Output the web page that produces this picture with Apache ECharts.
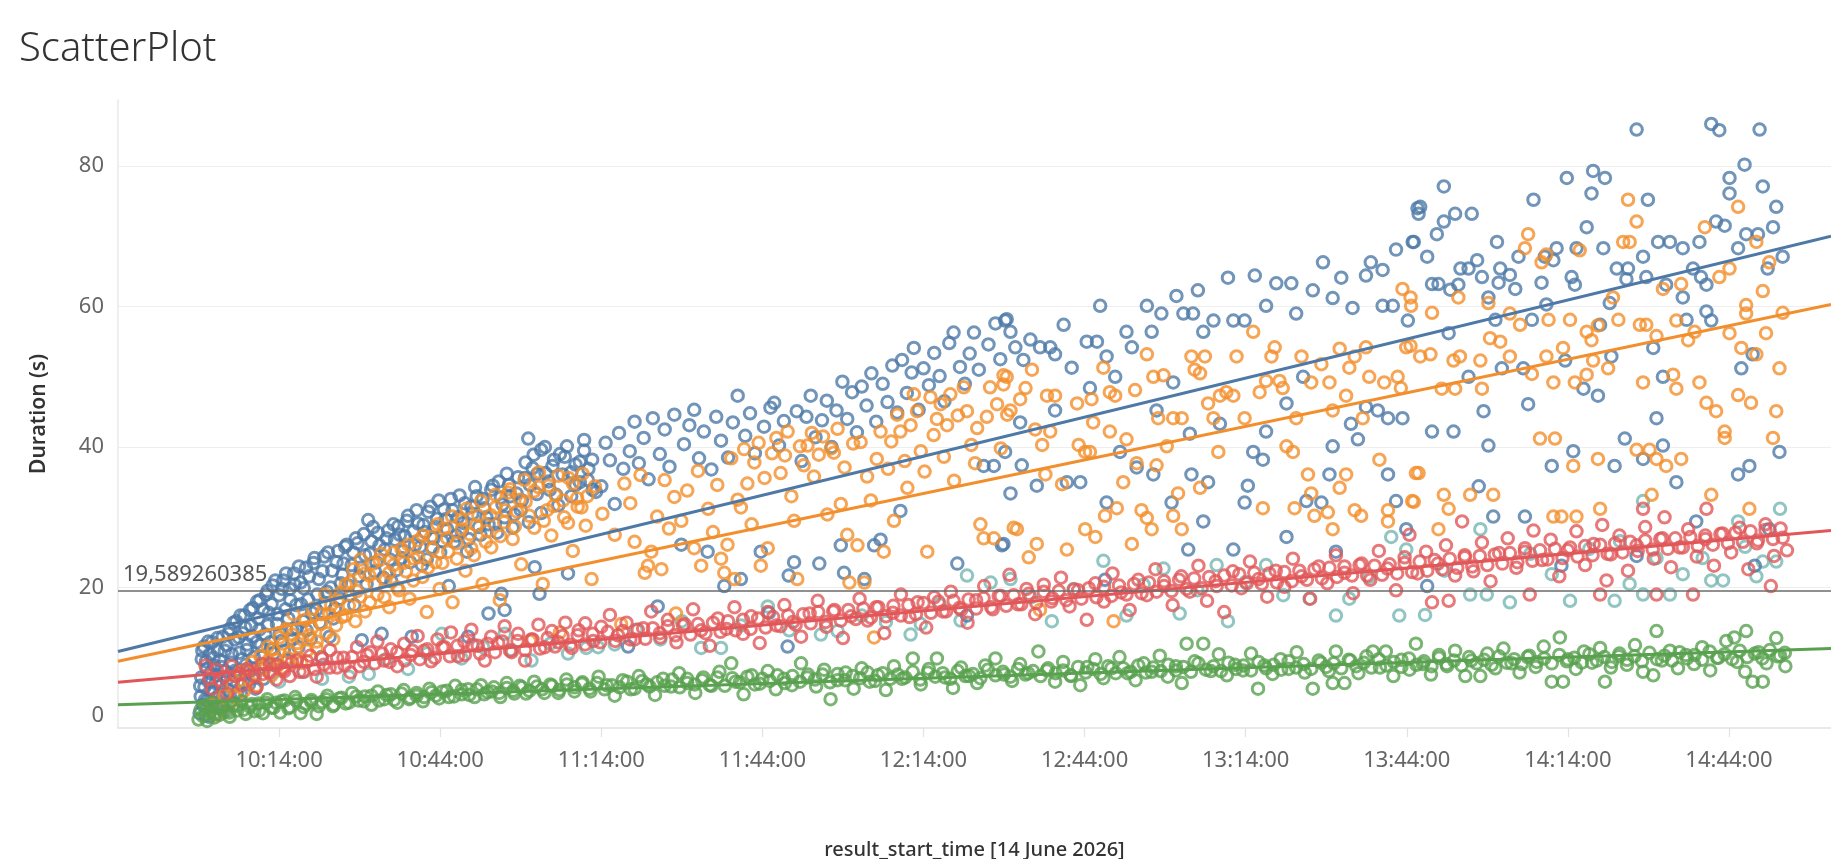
<!DOCTYPE html>
<html>
<head>
<meta charset="utf-8">
<title>ScatterPlot</title>
<script src="https://cdn.jsdelivr.net/npm/echarts@6/dist/echarts.min.js"></script>
<style>
  html, body { margin: 0; padding: 0; background: #fff; }
  #myChart { width: 1831px; height: 859px; }
</style>
</head>
<body>
<div id="myChart"></div>
<script>
// x = minutes since midnight on 14 June 2026, y = duration in seconds
const blueData = [
  [599.2,2.1],[599.4,4.5],[599.5,7.2],[599.6,9.8],[599.8,3.3],[600.0,11.6],[600.1,5.8],[600.3,1.8],[600.5,8.4],[600.7,3.9],
  [600.9,6.6],[601.1,10.5],[601.3,2.6],[601.5,12.2],[601.7,5.1],[601.9,8.9],[602.1,4.2],[602.3,7.5],[602.6,11.0],[602.8,2.9],
  [603.0,9.6],[603.2,6.0],[603.5,13.0],[603.7,4.6],[604.0,8.1],[604.2,11.8],[604.5,5.4],[604.8,14.1],[605.1,9.3],[605.4,6.8],
  [605.7,12.6],[606.0,15.2],[606.3,7.9],[606.6,10.7],[606.9,4.8],[607.2,13.5],[607.5,16.0],[607.8,9.0],[608.1,11.9],[608.4,6.2],
  [608.8,14.6],[609.1,17.1],[609.4,8.4],[609.8,12.2],[610.1,15.6],[610.4,18.2],[610.8,10.1],[611.1,7.0],[611.4,13.3],[611.8,19.5],
  [612.1,16.4],[612.5,11.2],[612.8,20.3],[613.2,8.9],[613.6,14.8],[614.0,18.9],[614.4,12.4],[614.8,21.0],[615.2,16.9],[615.6,9.7],
  [616.0,19.8],[616.4,14.0],[616.8,22.0],[617.2,17.5],[617.6,11.5],[618.0,20.7],[618.5,15.2],[619.0,22.8],[619.4,18.3],[619.9,12.7],
  [620.4,23.5],[620.9,16.8],[621.4,21.2],[621.9,10.1],[622.4,24.4],[622.9,19.4],[623.4,13.0],[623.9,22.4],[624.4,17.0],[625.0,25.2],
  [625.5,20.6],[626.0,23.4],[626.6,26.1],[627.2,18.9],[627.8,25.0],[628.3,27.0],[628.9,21.6],[629.4,12.5],[630.0,24.6],[630.6,29.6],
  [631.2,26.6],[631.8,22.3],[632.4,27.8],[633.1,13.4],[633.7,25.4],[634.3,28.1],[634.9,20.9],[635.6,26.8],[636.2,28.7],[636.8,24.2],
  [637.4,27.3],[638.0,30.2],[638.7,13.0],[639.3,26.0],[639.9,29.1],[640.6,23.2],[641.2,27.9],[641.8,30.8],[642.5,25.7],[643.1,28.6],
  [643.7,32.4],[644.4,26.6],[645.0,29.7],[645.6,20.2],[646.3,31.0],[647.0,27.4],[647.6,33.1],[648.3,29.2],[649.0,25.1],[649.2,13.0],
  [649.8,31.5],[650.5,34.3],[651.2,28.6],[651.9,32.6],[652.6,30.0],[653.0,16.3],[653.5,33.9],[654.2,29.0],[654.9,35.1],[655.4,19.1],
  [655.6,31.8],[656.0,16.8],[656.4,36.2],[657.1,33.0],[657.8,30.4],[658.5,35.7],[659.2,32.4],[659.9,37.8],[660.4,41.2],[660.7,34.6],
  [661.4,38.9],[661.6,22.9],[662.1,36.2],[662.5,19.1],[662.8,39.6],[663.5,40.0],[664.2,35.1],[664.9,37.3],[665.6,33.2],[666.3,39.0],
  [667.2,38.6],[667.8,22.0],[668.4,36.4],[669.2,34.6],[670.0,37.9],[670.8,39.5],[671.5,35.3],[672.3,38.2],[673.0,33.6],
  [674.0,34.4],[674.8,40.6],[675.6,38.1],[676.5,31.9],[677.3,42.0],[678.1,36.9],[679.0,11.6],[679.3,39.4],[680.2,43.6],[681.0,37.7],
  [681.9,41.3],[682.8,35.4],[683.6,44.1],[684.5,17.3],[684.9,39.0],[685.8,42.5],[686.7,37.2],[687.6,44.6],[688.9,26.1],[689.4,40.4],
  [690.4,43.1],[691.3,45.3],[692.2,38.4],[693.1,42.2],[693.8,25.1],[694.5,36.8],[695.4,44.3],[696.3,40.9],[696.9,20.2],[697.6,38.5],
  [698.5,43.5],[699.4,47.3],[700.0,21.2],[700.8,41.6],[701.7,44.8],[702.6,39.1],[703.7,25.1],[704.3,42.9],[705.2,16.4],[705.5,45.6],
  [706.2,46.3],[707.1,40.2],[708.0,43.7],[708.7,11.6],[708.9,21.7],[709.9,23.6],[710.4,45.1],[711.3,38.0],[712.2,44.3],[713.0,47.3],
  [713.9,41.4],[714.6,23.4],[715.1,43.8],[716.0,46.6],[716.9,40.0],[717.8,45.2],[718.6,26.0],[718.9,49.3],[719.2,22.1],[719.8,44.0],
  [720.7,47.8],[721.6,42.1],[722.5,48.6],[723.0,21.2],[723.4,45.9],[724.3,50.5],[724.8,26.0],[725.2,43.6],[726.0,26.8],[726.4,49.0],
  [727.3,46.4],[728.2,51.6],[729.1,44.9],[729.7,30.9],[730.0,52.4],[730.9,47.7],[731.8,50.6],[732.2,54.1],[733.1,45.3],[734.0,51.2],
  [735.0,48.8],[736.0,53.4],[737.0,50.1],[737.9,46.5],[738.8,54.8],[739.6,56.3],[740.3,23.4],[740.8,51.4],[741.7,49.0],[742.1,16.0],
  [742.6,53.3],[743.4,56.3],[744.3,51.0],[745.2,37.3],[746.1,54.6],[747.1,37.3],[747.4,57.6],[748.3,52.5],[748.6,26.0],[749.2,58.0],
  [750.2,33.4],[748.9,26.2],[749.2,39.3],[749.5,58.2],[750.2,56.4],[751.1,54.2],[752.0,43.5],[752.3,37.4],[752.6,52.4],[753.9,55.3],
  [755.1,34.5],[755.7,54.2],[757.6,54.2],[758.5,53.2],[758.5,45.2],[760.1,57.4],[760.7,35.0],[761.6,51.3],[763.2,35.0],[764.4,55.0],
  [765.0,48.4],[766.3,55.0],[766.9,60.1],[767.8,21.1],[768.1,52.9],[768.1,32.1],[769.7,50.0],[770.6,39.3],[771.8,56.4],[772.8,54.2],
  [773.7,37.1],[775.6,60.1],[776.5,56.4],[776.8,36.1],[777.4,45.2],[778.3,59.0],[780.2,32.1],[780.5,49.2],[781.1,61.5],[782.4,59.0],
  [783.3,25.4],[783.6,41.9],[783.9,36.1],[784.2,59.0],[785.1,62.3],[786.1,56.4],[786.1,29.4],[787.0,35.0],[788.0,58.0],[789.2,43.3],
  [790.7,64.1],[791.7,58.0],[791.7,25.4],[793.8,58.0],[793.8,32.1],[794.4,34.5],[795.4,39.3],[795.7,64.4],[797.2,38.2],[797.8,60.1],
  [797.8,42.2],[799.7,63.3],[801.6,46.2],[801.6,27.2],[802.5,63.3],[803.4,59.0],[804.7,50.0],[805.3,32.3],[806.5,62.3],[808.1,32.1],
  [808.4,66.3],[809.6,36.1],[810.2,61.2],[810.2,40.1],[810.8,25.1],[811.8,64.1],[813.6,43.3],[813.9,59.8],[814.9,41.1],[816.4,64.4],
  [816.4,45.7],[817.3,66.3],[818.6,45.2],[819.5,65.2],[819.5,60.1],[820.5,44.1],[820.5,36.1],[821.4,60.1],[822.0,68.1],[822.0,32.3],
  [823.2,44.1],[823.9,28.3],[824.2,58.0],[825.1,69.2],[826.0,74.0],
  [825.3,69.2],[826.2,73.2],[826.5,74.2],[827.8,67.1],[827.8,20.2],[828.7,63.2],[828.7,42.2],[829.6,70.3],[829.9,63.2],[830.9,77.1],
  [830.9,72.1],[831.8,56.2],[832.1,62.4],[832.7,42.2],[833.0,73.2],[833.6,63.1],[834.0,65.4],[835.5,65.4],[835.5,50.0],[836.1,73.2],
  [837.1,66.6],[837.4,34.4],[838.0,64.2],[838.3,45.1],[839.2,61.3],[839.2,40.2],[840.1,30.1],[840.5,58.1],[840.8,69.2],[841.1,63.4],
  [841.4,65.4],[841.7,51.2],[843.2,64.5],[844.2,62.5],[844.8,67.1],[845.7,51.2],[846.0,30.1],[846.6,46.1],[847.3,58.1],[847.6,75.2],
  [849.1,63.4],[849.7,67.1],[850.0,60.3],[851.0,37.3],[851.3,66.6],[851.9,68.3],[852.8,23.1],[853.5,52.3],[853.8,78.3],[854.7,64.2],
  [855.0,39.4],[855.3,63.1],[855.6,68.3],[856.9,48.3],[857.5,71.3],[858.4,76.1],[858.7,79.3],[859.6,47.3],[860.0,57.4],[860.6,68.3],
  [860.9,78.3],[861.8,60.5],[862.1,52.9],[862.7,37.3],[863.1,65.4],[864.6,41.2],[864.9,63.9],[865.2,65.4],[866.8,85.2],[866.8,24.5],
  [868.0,67.1],[868.0,38.3],[868.6,64.2],[868.9,75.2],[869.9,54.1],[870.5,44.1],[870.8,69.2],[871.7,50.0],[871.7,40.2],[872.3,63.1],
  [873.0,69.2],[874.2,35.0],[875.4,68.3],[875.4,61.3],[876.1,58.1],[877.3,65.4],[877.9,29.4],[878.5,69.2],[878.8,64.2],[879.8,63.1],
  [879.8,59.3],[880.7,86.0],[880.7,58.0],[881.6,72.1],[882.2,85.1],[883.2,71.5],[884.1,78.3],[884.1,76.1],[885.7,68.3],[885.7,36.1],
  [886.3,51.2],[886.9,80.2],[887.2,70.3],[887.8,37.3],[888.4,53.2],[888.8,23.1],[889.4,70.3],[889.7,85.2],[890.3,77.1],[891.2,65.4],
  [891.5,28.3],[892.2,71.3],[892.8,74.2],[893.4,39.3],[894.0,67.1]
];

// the solid blue mass of the first hour
const blueCore = [
  [599.3,6.0],[599.7,11.0],[600.2,4.0],[600.4,9.5],[600.8,12.3],[601.0,1.6],[601.2,7.8],[601.6,3.4],[601.8,10.0],[602.2,6.4],
  [602.5,12.8],[602.9,4.8],[603.3,8.7],[603.6,2.4],[603.9,11.0],[604.3,6.9],[604.6,13.4],[604.9,3.7],[605.2,10.5],[605.5,15.0],
  [605.9,8.2],[606.2,5.0],[606.5,12.9],[606.8,16.0],[607.1,9.8],[607.4,6.6],[607.7,14.3],[608.0,11.1],[608.3,8.0],[608.6,16.8],
  [609.0,13.0],[609.3,10.1],[609.6,5.6],[609.9,18.0],[610.3,14.0],[610.6,11.8],[611.0,16.9],[611.3,9.0],[611.6,19.0],[611.9,14.6],
  [612.3,12.2],[612.6,17.6],[613.0,10.6],[613.3,21.0],[613.7,16.2],[614.1,13.5],[614.5,19.8],[614.9,11.0],[615.3,22.0],[615.7,15.6],
  [616.1,18.2],[616.5,12.6],[616.9,20.4],[617.3,14.2],[617.7,23.0],[618.1,17.6],[618.6,19.9],[619.1,13.9],[619.6,21.6],[620.1,16.4],
  [620.6,24.2],[621.1,19.0],[621.6,15.0],[622.1,22.3],[622.6,17.7],[623.1,25.0],[623.6,20.0],[624.1,15.6],[624.7,23.6],[625.3,18.4],
  [625.8,21.8],[626.3,25.8],[626.9,20.3],[627.5,23.2],[628.0,17.5],[628.6,26.3],[629.2,22.8],[629.8,27.6],[630.3,20.5],[630.9,24.8],
  [631.5,28.6],[632.1,23.6],[632.7,26.0],[633.4,21.4],[634.0,27.0],[634.6,24.0],[635.3,29.0],[635.9,22.5],[636.5,27.5],[637.1,25.2],
  [637.8,29.5],[638.4,23.6],[639.0,28.0],[639.6,31.0],[640.3,25.8],[640.9,28.9],[641.5,24.0],[642.2,31.5],[642.8,27.0],[643.4,29.8],
  [644.0,25.0],[644.7,31.1],[645.3,28.3],[646.0,32.6],[646.6,26.5],[647.3,30.0],[648.0,28.0],[648.6,32.0],[649.3,26.9],[650.0,30.5],
  [650.8,33.0],[651.5,27.5],[652.2,31.3],[653.0,29.0],[653.8,34.5],[654.6,27.8],[655.3,32.8],[656.0,30.0],[656.8,34.6],[657.5,28.5],
  [658.2,33.4],[659.0,31.0],[659.8,35.6],[660.5,29.3],[661.2,37.0],[662.0,33.3],[662.8,30.6],[663.6,36.3],[664.4,33.9],[665.2,38.2],
  [666.0,31.7],[666.8,36.1],[667.6,40.1],[668.4,33.0],[669.2,37.5],[670.0,35.0],[670.8,41.0],[671.6,36.9],[672.4,33.9]
];

const orangeData = [
  [601.6,3.4],[602.4,1.9],[603.1,2.8],[603.8,4.6],[604.6,3.1],[605.3,6.2],[606.0,4.4],[606.8,8.0],[607.5,5.3],[608.3,7.1],
  [609.0,9.4],[609.8,6.0],[610.5,10.2],[611.2,8.3],[611.9,11.6],[612.6,7.5],[613.4,9.8],[614.1,12.9],[614.6,8.6],[615.3,14.1],
  [616.0,10.7],[616.7,16.2],[617.4,12.1],[618.1,9.3],[618.9,15.4],[619.6,13.2],[620.3,17.0],[621.0,11.4],[621.8,14.8],[622.6,19.0],
  [623.3,16.3],[624.1,12.6],[624.9,18.1],[625.7,15.8],[626.4,20.4],[627.0,17.4],[627.8,22.6],[628.5,19.5],[629.2,24.0],[630.0,16.6],
  [630.8,21.7],[631.5,23.4],[632.3,19.0],[633.0,24.8],[633.8,21.1],[634.5,17.2],[635.3,23.2],[636.0,20.0],[636.8,25.5],[637.6,22.3],
  [638.3,18.4],[639.1,24.1],[639.9,26.7],[640.7,21.5],[641.5,16.5],[642.3,27.2],[643.1,23.6],[643.9,19.8],[644.7,28.4],[645.5,25.1],
  [646.3,17.9],[647.1,26.3],[647.9,29.6],[648.7,22.4],[649.5,27.6],[650.3,24.6],[651.1,30.2],[651.9,20.5],[652.7,28.0],[653.5,25.7],
  [654.3,31.4],[655.1,18.2],[655.9,29.3],[656.7,33.5],[657.5,26.9],[658.3,30.8],[659.1,23.3],[659.9,32.2],[660.7,12.4],[661.5,28.5],
  [662.3,34.3],[663.1,20.5],[663.9,31.0],[664.7,27.4],[665.5,33.1],[666.3,13.6],[667.1,30.0],[667.9,35.6],[668.7,25.2],[669.5,32.7],
  [670.3,31.4],[671.1,28.8],[672.2,21.2],[672.8,34.4],
  [674.2,30.5],[676.5,27.5],[677.7,14.8],[678.3,34.8],[679.4,32.0],[680.2,26.5],[681.3,36.0],[682.1,22.1],[682.7,23.1],[683.3,25.1],
  [684.4,30.1],[685.2,22.6],[685.8,35.3],[686.6,28.4],[687.6,32.9],[687.9,16.3],[688.9,29.5],[690.0,33.8],[691.3,25.6],[692.0,36.6],
  [692.6,23.1],[693.9,31.2],[694.8,27.9],[695.6,34.6],[696.3,24.1],[696.9,22.1],[697.5,26.1],[698.2,38.4],[698.8,21.2],[699.4,32.5],
  [700.0,31.4],[700.6,39.7],[701.2,34.8],[702.0,29.0],[702.5,37.8],[703.3,40.6],[703.7,23.1],[704.4,35.6],[705.0,25.6],[705.8,39.1],
  [706.6,41.3],[707.4,36.3],[708.2,38.8],[708.7,42.2],[709.4,33.0],[709.9,29.5],[710.5,21.2],[711.0,40.1],[711.7,37.4],[712.4,40.2],
  [713.2,42.0],[713.6,35.8],[714.5,38.9],[715.3,41.5],[716.1,30.4],[716.8,39.8],[717.3,39.2],[718.0,42.6],[718.6,31.9],[719.3,37.1],
  [719.8,27.5],[720.2,20.7],[720.9,40.5],[721.7,26.0],[722.3,40.7],[723.0,20.7],[723.5,35.8],[724.2,32.4],[724.8,12.9],[725.3,38.3],
  [726.0,42.2],[726.6,25.1],[727.4,36.9],[728.0,40.8],[728.5,29.5],[729.1,44.6],[729.7,42.2],[730.5,38.0],[731.0,34.2],[731.6,43.1],
  [732.2,47.5],[732.8,45.1],[733.5,39.4],[734.2,36.5],[734.7,25.1],[735.3,47.1],[735.9,41.7],[736.5,44.0],[737.2,46.1],[737.8,38.6],
  [738.4,43.1],[739.0,47.5],[739.7,35.2],[740.4,44.5],[741.5,48.5],[742.1,45.1],[742.9,40.3],[743.6,37.7],[744.0,42.7],[744.6,29.0],
  [745.2,27.0],[745.8,44.3],[746.4,48.5],[747.1,27.0],[747.7,46.1],[748.4,39.8],[748.9,50.2],[749.6,44.6],[750.8,28.5],
  [748.9,48.9],[749.5,50.0],[750.2,45.2],[751.4,28.3],[752.0,46.8],[753.0,48.4],[753.6,24.3],[754.2,51.0],[754.8,42.5],[755.1,26.2],
  [755.7,16.8],[756.1,40.3],[756.7,36.1],[757.0,47.3],[757.6,42.2],[758.5,47.3],[759.8,34.7],[760.7,25.4],[762.6,46.2],[762.9,40.3],
  [764.1,39.3],[764.1,28.3],[765.0,39.3],[765.3,46.8],[765.6,43.5],[766.0,27.2],[767.5,51.3],[767.8,30.2],[768.7,47.8],[768.7,42.2],
  [769.4,15.2],[769.7,47.3],[770.0,31.3],[771.2,35.0],[771.8,41.1],[772.8,26.2],[773.4,48.1],[773.7,37.7],[774.6,31.0],[775.6,53.2],
  [775.6,29.9],[776.5,28.3],[776.8,50.0],[777.4,37.4],[777.7,44.1],[778.7,50.2],[779.3,40.1],[780.5,44.1],[780.5,30.2],[781.4,33.4],
  [782.1,44.1],[782.1,28.3],[783.9,52.9],[784.5,51.0],[785.5,50.5],[785.5,34.2],[786.4,52.9],[787.0,46.2],[788.0,44.1],[788.9,39.3],
  [789.2,47.3],[790.4,47.8],[791.7,47.3],[792.3,52.9],[793.8,44.1],[795.4,56.4],[796.6,47.8],[797.2,31.3],[797.8,49.4],[798.8,52.9],
  [799.4,54.2],[800.3,49.4],[800.9,48.4],[801.6,40.1],[802.8,39.3],[803.1,31.3],[803.4,44.1],[804.4,52.9],[805.6,36.1],[806.2,49.2],
  [806.2,33.4],[806.8,30.2],[808.1,51.8],[809.3,30.7],[809.6,49.2],[810.2,45.2],[810.2,28.3],[811.5,54.0],[811.5,34.2],[812.7,47.3],
  [812.7,36.1],[813.3,51.3],[814.3,52.9],[814.3,31.0],[815.5,30.2],[815.8,44.1],[816.4,54.2],[817.0,50.0],[818.9,38.2],[819.8,49.2],
  [820.5,31.0],[820.5,29.4],[822.3,50.0],[822.9,48.4],[823.2,62.5],[823.9,54.2],[824.8,60.1],[825.0,32.3],[825.7,36.3],
  [824.7,61.3],[824.7,54.4],[825.3,32.2],[826.2,36.3],[826.5,52.9],[828.4,53.2],[828.7,59.1],[829.9,28.3],[830.5,48.3],[830.9,33.2],
  [831.8,31.2],[832.7,52.3],[833.0,48.3],[833.6,61.3],[833.9,52.9],[835.8,33.2],[837.7,52.3],[838.0,48.3],[839.2,60.5],[839.5,55.5],
  [840.1,33.2],[841.4,55.0],[843.2,59.0],[843.2,52.9],[845.1,57.4],[846.0,68.3],[846.6,70.3],[847.3,50.4],[848.8,41.2],[849.1,66.3],
  [850.0,67.4],[850.0,52.9],[850.4,58.1],[851.3,49.2],[851.3,30.1],[851.6,41.2],[852.8,30.1],[853.1,54.1],[854.4,58.1],[855.0,37.3],
  [855.3,49.2],[855.6,30.1],[856.2,68.0],[857.5,56.4],[857.5,50.3],[858.4,55.2],[858.7,52.3],[859.6,57.3],[859.6,38.3],[860.0,31.2],
  [861.5,51.2],[862.4,61.3],[863.4,58.1],[864.3,69.2],[865.2,75.2],[865.5,69.2],[866.8,72.1],[866.8,39.6],[867.4,57.4],[868.0,49.2],
  [868.6,57.4],[869.2,39.6],[869.6,33.2],[870.5,55.8],[870.5,38.3],[871.7,62.5],[872.3,37.3],[873.6,50.3],[874.2,58.0],[874.2,48.3],
  [875.1,63.2],[875.1,38.3],[876.4,55.2],[877.6,56.4],[878.5,49.2],[879.5,71.3],[879.8,46.3],[880.7,33.2],[881.6,45.1],[882.2,64.2],
  [883.2,42.2],[883.2,41.3],[884.1,65.4],[884.1,56.2],[885.7,74.2],[885.7,47.4],[886.3,54.1],[887.2,60.2],[887.2,59.0],[887.8,31.2],
  [888.1,46.3],[889.1,69.2],[889.1,53.2],[890.3,62.2],[890.9,56.2],[891.5,66.3],[892.2,41.3],[892.8,45.1],[893.4,51.2],[894.0,59.1]
];

const orangeCore = [
  [612.0,9.6],[612.9,11.2],[613.8,8.9],[614.7,12.0],[615.6,10.0],[616.5,13.3],[617.4,9.9],[618.3,12.6],[619.2,11.0],[620.1,14.2],
  [621.0,12.3],[621.9,16.2],[622.8,13.5],[623.7,17.5],[624.6,14.6],[625.5,19.3],[626.4,16.0],[627.3,20.8],[628.2,15.2],[629.1,18.7],
  [630.0,22.0],[630.9,17.9],[631.8,20.5],[632.7,23.9],[633.6,18.6],[634.5,22.1],[635.4,25.0],[636.3,19.6],[637.2,23.5],[638.1,26.1],
  [639.0,21.0],[639.9,24.3],[640.8,27.4],[641.7,22.8],[642.6,25.5],[643.5,29.0],[644.4,23.5],[645.3,27.0],[646.2,30.1],[647.1,24.1],
  [648.0,28.3],[648.9,31.2],[649.8,25.6],[650.7,28.9],[651.6,32.3],[652.5,26.5],[653.4,30.3],[654.3,33.2],[655.2,27.3],[656.1,31.0],
  [657.0,34.0],[657.9,28.7],[658.8,32.5],[659.7,35.3],[660.6,30.2],[661.5,33.7],[662.4,36.4],[663.3,29.5],[664.2,34.5],[665.1,31.6],
  [666.0,35.9],[666.9,32.4],[667.8,29.2],[668.7,34.8],[669.6,31.5],[670.5,36.2],[671.4,33.0]
];

const tealData = [
  [605.0,6.1],[609.5,7.2],[614.0,6.6],[618.6,8.0],[622.0,7.0],[627.0,7.3],[630.7,7.7],[634.0,9.8],[638.0,8.4],[641.5,10.6],
  [644.3,13.4],[648.0,9.9],[652.0,11.5],[656.0,13.4],[657.3,11.1],[661.0,9.6],[664.5,12.0],[667.8,10.6],[671.2,11.4],[673.4,11.5],
  [676.5,11.9],[680.5,14.0],[685.0,12.6],[689.0,15.2],[692.6,11.4],[696.3,11.4],[700.0,14.6],[705.0,17.3],[709.0,13.9],[714.9,13.3],
  [718.0,13.8],[722.5,16.0],[727.0,15.1],[731.6,13.3],[733.5,14.8],[737.0,17.6],[740.9,15.3],[742.1,21.7],[746.5,20.7],[750.2,21.2],
  [754.0,18.6],[757.9,15.2],[762.0,19.8],[767.5,23.8],[771.8,16.0],[775.0,20.4],[778.7,22.7],[781.7,16.3],[785.0,19.6],[788.6,23.2],
  [790.7,15.2],[794.0,20.8],[797.8,23.2],[801.0,18.9],[805.9,18.4],[810.8,16.0],[813.3,18.4],[817.0,21.5],[821.1,27.2],[822.6,16.0],
  [823.9,25.4],[827.4,16.1],[831.0,22.4],[835.8,19.0],[837.7,28.3],[838.9,19.0],[843.2,17.9],[847.0,24.8],[851.0,21.9],[854.4,18.1],
  [858.0,25.5],[862.7,18.1],[863.7,26.6],[865.5,20.5],[868.0,32.3],[868.0,19.0],[870.5,24.2],[873.0,19.0],[875.4,21.9],[879.1,24.2],
  [880.7,21.0],[882.9,21.0],[885.7,29.4],[887.0,25.8],[889.1,21.6],[890.3,23.7],[892.8,23.7],[893.5,31.2]
];

const redData = [
  [600.3,8.9],[601.5,5.6],[603.0,6.8],[604.4,4.9],[605.8,7.4],[607.1,6.1],[608.5,8.2],[609.8,5.8],[611.0,7.7],[612.3,9.1],
  [613.5,6.9],[614.8,8.4],[616.0,7.4],[617.3,9.6],[618.5,8.0],[619.8,10.3],[621.0,7.3],[622.3,9.0],[623.5,11.1],[624.8,8.6],
  [626.0,10.0],[627.3,7.9],[628.5,11.5],[629.8,9.4],[631.0,10.8],[632.3,12.3],[633.5,9.6],[634.8,11.2],[636.0,8.8],[637.3,12.0],
  [638.5,10.4],[639.8,13.1],[641.0,11.0],[642.3,9.5],[643.5,12.6],[644.8,11.5],[646.0,13.6],[647.3,10.2],[648.5,12.3],[649.8,14.0],
  [651.0,11.7],[652.3,9.6],[653.5,13.0],[654.8,12.1],[656.0,14.5],[657.3,10.8],[658.5,13.4],[659.8,9.6],[661.0,12.6],[662.3,14.7],
  [663.5,11.5],[664.8,13.8],[666.0,12.2],[667.3,15.0],[668.5,11.4],[669.8,13.9],[671.0,14.9],[672.5,12.4],[674.0,14.4],[675.6,16.1],
  [677.1,13.2],[678.7,15.0],[680.2,12.6],[681.8,14.2],[683.3,16.6],[684.9,13.5],[686.4,15.4],[688.0,12.2],[689.5,14.8],[691.1,16.9],
  [692.6,13.9],[694.2,11.7],[695.7,15.6],[697.3,14.1],[698.8,17.2],[700.4,13.4],[701.9,15.9],[703.5,12.1],[705.0,16.5],[706.6,14.6],
  [708.1,17.5],[709.7,15.1],[711.2,13.0],[712.8,16.3],[714.3,18.1],[715.9,14.4],[717.4,16.8],[719.0,12.8],[720.5,15.9],[722.1,18.4],
  [723.6,15.3],[725.2,17.2],[726.7,13.5],[728.3,16.4],[729.8,19.0],[731.4,15.8],[732.9,17.9],[734.5,14.3],[736.0,18.6],[737.6,16.6],
  [739.1,19.4],[740.7,17.1],[742.2,15.0],[743.8,18.2],[745.3,20.2],[746.9,16.9],[748.4,18.8],[750.0,21.8],[751.6,17.6],[753.2,19.8],
  [754.8,16.2],[756.4,20.4],[758.0,18.5],[759.6,21.4],[761.2,17.3],[762.8,19.6],[764.4,15.4],[766.0,20.6],[767.6,18.0],[769.2,22.0],
  [770.8,19.3],[772.4,16.8],[774.0,21.1],[775.6,18.9],[777.2,22.6],[778.8,20.2],[780.4,17.5],[782.0,21.6],[783.6,19.4],[785.2,23.1],
  [786.8,18.1],[788.4,20.9],[790.0,16.5],[791.6,22.3],[793.2,19.9],[794.8,23.7],[796.4,21.2],[798.0,18.7],[799.6,22.4],[801.2,20.1],
  [802.8,24.1],[804.4,21.6],[806.0,18.4],[807.6,23.0],[809.2,20.6],[810.8,24.6],[812.4,22.1],[814.0,19.2],[815.6,23.4],[817.2,21.1],
  [818.8,25.2],[820.4,22.7],[822.0,19.6],[823.6,24.3],[824.5,27.5],[826.0,22.0],[827.6,25.1],[828.7,17.9],[829.8,23.4],[831.3,26.0],
  [831.8,18.1],[833.0,21.7],[834.3,29.4],[834.8,24.6],[836.4,22.3],[838.0,26.4],[839.6,20.9],[841.2,24.9],[842.8,27.0],[844.4,22.8],
  [846.0,25.6],[846.9,19.0],[847.6,28.1],[849.2,23.9],[850.8,26.8],[852.4,21.6],[854.0,25.3],[855.6,28.0],[857.2,23.2],[858.8,26.2],
  [860.0,19.0],[860.4,28.9],[861.2,21.0],[862.0,24.7],[863.6,27.4],[865.2,22.4],[866.8,26.0],[868.0,31.2],[868.4,28.6],[870.0,24.1],
  [870.5,19.0],[871.6,27.0],[872.0,30.0],[873.2,22.9],[874.8,25.7],[876.4,28.3],[877.3,19.0],[878.0,24.4],[879.6,26.9],[879.8,31.2],
  [881.2,23.1],[882.8,27.7],[884.4,25.0],[886.0,28.5],[887.6,22.6],[889.2,26.3],[890.8,29.0],[891.8,20.2],[892.4,24.5],[894.0,27.1],
  [894.8,25.3]
];

// the tight red band along its trend
const redCore = [
  [601.0,7.0],[602.4,8.3],[603.8,7.3],[605.2,8.8],[606.6,7.6],[608.0,8.4],[609.4,7.5],[610.8,9.1],[612.2,7.9],[613.6,9.0],
  [615.0,8.1],[616.4,9.4],[617.8,8.0],[619.2,9.5],[620.6,8.4],[622.0,9.9],[623.4,8.6],[624.8,10.0],[626.2,8.9],[627.6,10.1],
  [629.0,8.8],[630.4,10.4],[631.8,9.2],[633.2,10.6],[634.6,9.4],[636.0,10.8],[637.4,9.6],[638.8,11.0],[640.2,9.8],[641.6,11.2],
  [643.0,10.0],[644.4,11.5],[645.8,10.2],[647.2,11.7],[648.6,10.4],[650.0,11.9],[651.4,10.6],[652.8,12.0],[654.2,10.8],[655.6,12.3],
  [657.0,11.0],[658.4,12.4],[659.8,11.1],[661.2,12.6],[662.6,11.3],[664.0,12.8],[665.4,11.6],[666.8,13.1],[668.2,11.8],[669.6,13.2],
  [671.0,11.9],[672.4,13.4],[673.8,12.2],[675.2,13.7],[676.6,12.4],[678.0,13.8],[679.4,12.6],[680.8,14.0],[682.2,12.7],[683.6,14.2],
  [685.0,12.9],[686.4,14.5],[687.8,13.2],[689.2,14.6],[690.6,13.3],[692.0,14.8],[693.4,13.5],[694.8,15.0],[696.2,13.7],[697.6,15.2],
  [699.0,13.9],[700.4,15.4],[701.8,14.1],[703.2,15.6],[704.6,14.3],[706.0,15.8],[707.4,14.5],[708.8,16.0],[710.2,14.7],[711.6,16.2],
  [713.0,14.9],[714.4,16.5],[715.8,15.1],[717.2,16.6],[718.6,15.3],[720.0,16.8],[721.4,15.5],[722.8,17.0],[724.2,15.7],[725.6,17.2],
  [727.0,15.9],[728.4,17.4],[729.8,16.0],[731.2,17.5],[732.6,16.2],[734.0,17.8],[735.4,16.4],[736.8,18.0],[738.2,16.6],[739.6,18.1],
  [741.0,16.8],[742.4,18.3],[743.8,17.0],[745.2,18.5],[746.6,17.2],[748.0,18.8],[749.4,17.4],[750.8,18.9],[752.2,17.6],[753.6,19.1],
  [755.0,17.8],[756.4,19.4],[757.8,18.0],[759.2,19.5],[760.6,18.2],[762.0,19.7],[763.4,18.4],[764.8,19.9],[766.2,18.6],[767.6,20.1],
  [769.0,18.8],[770.4,20.3],[771.8,19.0],[773.2,20.5],[774.6,19.2],[776.0,20.7],[777.4,19.4],[778.8,20.9],[780.2,19.5],[781.6,21.1],
  [783.0,19.8],[784.4,21.3],[785.8,19.9],[787.2,21.5],[788.6,20.2],[790.0,21.7],[791.4,20.3],[792.8,21.9],[794.2,20.6],[795.6,22.1],
  [797.0,20.5],[798.4,22.0],[799.8,20.7],[801.2,22.2],[802.6,20.9],[804.0,22.4],[805.4,21.1],[806.8,22.6],[808.2,21.3],[809.6,22.8],
  [811.0,21.5],[812.4,23.0],[813.8,21.7],[815.2,23.2],[816.6,21.7],[818.0,23.1],[819.4,21.8],[820.8,23.3],[822.2,22.0],[823.6,23.5],
  [825.0,22.2],[826.4,23.7],[827.8,22.4],[829.2,23.9],[830.6,22.6],[832.0,24.1],[833.4,22.8],[834.8,24.3],[836.2,23.0],[837.6,24.5],
  [839.0,23.2],[840.4,24.7],[841.8,23.4],[843.2,24.9],[844.6,23.6],[846.0,25.1],[847.4,23.8],[848.8,25.3],[850.2,24.0],[851.6,25.5],
  [853.0,24.2],[854.4,25.7],[855.8,24.4],[857.2,25.9],[858.6,24.6],[860.0,26.1],[861.4,24.8],[862.8,26.3],[864.2,25.0],[865.6,26.5],
  [867.0,25.2],[868.4,26.7],[869.8,25.4],[871.2,26.9],[872.6,25.5],[874.0,27.0],[875.4,25.7],[876.8,27.2],[878.2,25.9],[879.6,27.4],
  [881.0,26.1],[882.4,27.6],[883.8,26.3],[885.2,27.8],[886.6,26.5],[888.0,28.0],[889.4,26.7],[890.8,28.2],[892.2,26.9],[893.6,28.4]
];

const greenData = [
  [599.0,1.2],[599.4,2.6],[599.8,1.7],[600.2,3.2],[600.6,1.0],[601.0,2.2],[601.5,3.6],[602.0,1.5],[602.5,2.8],[603.0,1.9],
  [603.6,3.1],[604.2,2.4],[604.8,1.6],[605.5,3.3],[606.2,2.5],[607.0,3.8],[607.8,2.0],[608.6,3.0],[609.4,2.4],[610.2,3.5],
  [611.0,2.1],[611.8,4.1],[612.6,2.9],[613.4,3.6],[614.2,2.2],[615.0,3.9],[616.0,3.0],[617.0,4.4],[618.0,2.1],[619.0,3.4],
  [620.0,4.0],[621.0,2.0],[622.0,3.7],[623.0,4.6],[624.0,3.1],[625.2,4.2],[626.4,3.5],[627.6,5.0],[628.8,3.9],[630.0,4.5],
  [631.2,3.3],[632.4,5.2],[633.6,4.1],[634.8,4.8],[636.0,3.6],[637.2,5.4],[638.4,4.3],[639.6,5.0],[640.8,3.8],[642.0,5.6],
  [643.2,4.6],[644.4,5.2],[645.6,4.4],[646.8,6.0],[648.0,4.8],[649.2,5.5],[650.4,4.4],[651.6,6.1],[652.8,5.1],[654.0,5.8],
  [655.2,4.4],[656.4,6.4],[657.6,5.3],[658.8,6.0],[660.0,4.9],[661.5,6.6],[663.0,5.5],[664.5,6.2],[666.0,5.0],[667.5,6.9],
  [669.0,5.8],[670.5,6.5],[672.0,5.2],[673.5,7.3],[675.0,6.1],[676.5,4.6],[678.0,6.8],[679.5,5.5],[681.0,7.4],[682.5,6.2],
  [684.0,4.7],[685.5,7.0],[687.0,5.9],[688.5,7.8],[690.0,6.4],[691.5,5.0],[693.0,7.2],[694.5,6.0],[696.0,8.0],[698.2,9.2],
  [699.0,6.6],[700.5,4.8],[702.0,7.5],[703.5,6.3],[705.0,8.1],[706.5,5.5],[708.0,7.0],[709.5,6.1],[711.2,9.2],[712.5,7.6],
  [714.0,5.9],[715.5,8.3],[716.7,4.1],[718.0,6.8],[719.5,7.9],[721.0,5.6],[722.5,8.5],[724.0,6.6],[725.5,7.5],[727.0,5.4],
  [728.5,8.8],[730.0,7.0],[732.0,9.9],[733.5,6.2],[735.0,8.4],[736.5,9.9],[738.0,7.2],[739.5,5.7],[741.0,8.6],[742.5,7.4],
  [744.0,6.4],[745.5,8.9],[747.4,9.9],[749.0,7.6],[750.5,6.7],[752.0,9.1],[753.5,7.8],[755.4,10.9],[757.0,8.2],[758.5,6.6],
  [760.0,9.4],[761.5,7.4],[763.2,6.1],[764.5,8.7],[766.0,9.8],[767.5,7.1],[769.0,8.5],[770.5,10.1],[772.0,7.8],[773.5,6.8],
  [775.0,9.2],[776.5,8.0],[778.0,10.3],[779.5,7.3],[781.0,8.8],[782.1,6.4],[783.0,12.0],[784.5,9.5],[786.1,12.0],[787.5,8.1],
  [789.0,10.5],[790.5,7.5],[792.0,9.0],[793.5,8.2],[795.0,10.6],[796.3,5.6],[797.5,8.9],[799.0,7.7],[800.5,9.8],[802.0,8.4],
  [803.5,10.8],[805.0,7.9],[806.5,5.6],[808.0,9.3],[809.5,8.1],[810.2,6.4],[810.8,10.9],[812.4,6.4],[813.5,9.6],[815.0,7.8],
  [816.5,10.2],[817.7,10.9],[819.0,8.6],[820.1,10.9],[821.5,7.4],[823.0,9.7],[824.5,8.3],[825.7,12.0],[827.0,9.1],[828.5,7.6],
  [830.0,10.4],[831.5,8.8],[833.0,11.0],[834.9,7.4],[836.0,9.6],[837.7,7.4],[839.0,10.6],[840.5,8.5],[842.0,11.3],[843.5,9.2],
  [845.0,7.9],[846.5,10.1],[848.0,8.7],[849.5,11.6],[851.0,6.6],[852.5,12.9],[853.1,6.6],[854.0,9.8],[855.5,8.4],[857.0,10.9],
  [858.5,9.3],[860.0,11.4],[860.9,6.6],[862.0,8.6],[863.5,10.2],[865.0,9.0],[866.5,11.8],[868.0,8.0],[869.9,7.5],[870.5,13.8],
  [871.5,9.6],[873.0,11.0],[874.5,8.5],[876.0,10.4],[877.5,9.1],[879.0,11.5],[880.5,8.2],[882.0,10.0],[883.5,12.4],[885.0,12.9],
  [885.5,9.4],[887.2,13.8],[887.0,8.0],[888.4,6.6],[889.5,10.8],[890.3,6.6],[891.0,9.2],[892.8,12.8],[893.5,10.3],[894.5,8.8]
];

// the tight green band along its trend
const greenCore = [
  [600.6,2.8],[601.9,2.0],[603.3,3.0],[604.7,2.2],[606.1,3.2],[607.4,2.6],[608.9,3.4],[610.3,2.5],[611.6,3.6],[613.0,2.9],
  [614.4,3.8],[615.7,2.8],[617.2,3.9],[618.6,3.0],[620.0,3.7],[621.4,3.1],[622.8,4.1],[624.2,3.3],[625.6,4.3],[627.0,3.6],
  [628.4,4.5],[629.8,3.8],[631.2,4.6],[632.6,3.9],[634.0,4.7],[635.4,4.0],[636.8,4.9],[638.2,4.1],[639.6,4.6],[641.0,4.4],
  [642.4,5.1],[643.8,4.2],[645.2,5.3],[646.6,4.5],[648.0,5.4],[649.4,4.7],[650.8,5.5],[652.2,4.8],[653.6,5.2],[655.0,5.0],
  [656.4,5.7],[657.8,4.9],[659.2,5.8],[660.6,5.3],[662.0,5.9],[663.4,5.0],[664.8,6.0],[666.2,5.4],[667.6,6.2],[669.0,5.2],
  [670.4,6.3],[671.8,5.6],[673.2,6.4],[674.6,5.5],[676.0,6.1],[677.4,5.8],[678.8,6.6],[680.2,5.6],[681.6,6.7],[683.0,5.9],
  [684.4,6.5],[685.8,6.0],[687.2,6.9],[688.6,5.8],[690.0,7.0],[691.4,6.2],[692.8,6.8],[694.2,6.1],[695.6,7.2],[697.0,6.0],
  [698.4,7.1],[699.8,6.5],[701.2,7.3],[702.6,6.2],[704.0,7.0],[705.4,6.7],[706.8,7.5],[708.2,6.4],[709.6,7.4],[711.0,6.6],
  [712.4,7.2],[713.8,6.9],[715.2,7.6],[716.6,6.5],[718.0,7.7],[719.4,6.8],[720.8,7.4],[722.2,7.1],[723.6,7.9],[725.0,6.7],
  [726.4,7.8],[727.8,7.0],[729.2,7.6],[730.6,7.2],[732.0,8.0],[733.4,6.9],[734.8,7.9],[736.2,7.3],[737.6,7.8],[739.0,7.0],
  [740.4,8.1],[741.8,7.4],[743.2,7.7],[744.6,7.1],[746.0,8.3],[747.4,7.5],[748.8,8.0],[750.2,7.3],[751.6,8.4],[753.0,7.6],
  [754.4,8.1],[755.8,7.4],[757.2,8.5],[758.6,7.8],[760.0,8.2],[761.4,7.5],[762.8,8.7],[764.2,7.9],[765.6,8.4],[767.0,7.7],
  [768.4,8.8],[769.8,7.8],[771.2,8.5],[772.6,8.0],[774.0,8.9],[775.4,7.9],[776.8,8.6],[778.2,8.1],[779.6,9.0],[781.0,8.2],
  [782.4,8.7],[783.8,8.0],[785.2,9.2],[786.6,8.3],[788.0,8.8],[789.4,8.1],[790.8,9.3],[792.2,8.4],[793.6,8.9],[795.0,8.2],
  [796.4,9.4],[797.8,8.5],[799.2,9.0],[800.6,8.3],[802.0,9.5],[803.4,8.6],[804.8,9.1],[806.2,8.4],[807.6,9.6],[809.0,8.7],
  [810.4,9.2],[811.8,8.5],[813.2,9.7],[814.6,8.8],[816.0,9.3],[817.4,8.6],[818.8,9.8],[820.2,8.9],[821.6,9.4],[823.0,8.7],
  [824.4,9.9],[825.8,9.0],[827.2,9.5],[828.6,8.8],[830.0,10.0],[831.4,9.1],[832.8,9.6],[834.2,8.9],[835.6,10.1],[837.0,9.2],
  [838.4,9.7],[839.8,9.0],[841.2,10.2],[842.6,9.3],[844.0,9.8],[845.4,9.1],[846.8,10.3],[848.2,9.4],[849.6,9.9],[851.0,9.2],
  [852.4,10.4],[853.8,9.5],[855.2,10.0],[856.6,9.3],[858.0,10.5],[859.4,9.6],[860.8,10.1],[862.2,9.4],[863.6,10.6],[865.0,9.7],
  [866.4,10.2],[867.8,9.5],[869.2,10.7],[870.6,9.8],[872.0,10.3],[873.4,9.6],[874.8,10.8],[876.2,9.9],[877.6,10.4],[879.0,9.7],
  [880.4,10.9],[881.8,10.0],[883.2,10.5],[884.6,9.8],[886.0,11.0],[887.4,10.1],[888.8,10.6],[890.2,9.9],[891.6,11.1],[893.0,10.2],
  [894.4,10.7]
];

// trend lines, at the left and right edges of the plot
const trendTimes = [584, 903];
const blueTrend = [10.9, 70.0];
const orangeTrend = [9.5, 60.3];
const redTrend = [6.5, 28.1];
const greenTrend = [3.3, 11.3];

const refValue = 19.589260385;
const refLabel = String(refValue).replace('.', ',');

const FONT = '"Noto Sans", "Open Sans", sans-serif';

const colors = {
  blue: '#4e79a7',
  orange: '#f28e2b',
  red: '#e15759',
  teal: '#76b7b2',
  green: '#59a14f'
};

function fmtTime(v) {
  const h = Math.floor(v / 60);
  const m = Math.round(v - h * 60);
  return h + ':' + String(m).padStart(2, '0') + ':00';
}

function scatter(name, data, color) {
  return {
    type: 'scatter',
    name: name,
    data: data,
    symbol: 'circle',
    symbolSize: 11.5,
    itemStyle: { color: 'rgba(0,0,0,0)', borderColor: color, borderWidth: 3 },
    z: 2,
    silent: true
  };
}

function trend(name, values, color) {
  return {
    type: 'line',
    name: name,
    data: [[trendTimes[0], values[0]], [trendTimes[1], values[1]]],
    showSymbol: false,
    symbol: 'none',
    lineStyle: { color: color, width: 3 },
    z: 3,
    silent: true
  };
}

const refSeries = trend('Trend 4', greenTrend, colors.green);
refSeries.markLine = {
  silent: true,
  symbol: ['none', 'none'],
  lineStyle: { color: '#6b6b6b', width: 1.6, type: 'solid' },
  label: {
    show: true,
    position: 'insideStartTop',
    formatter: refLabel,
    fontFamily: FONT,
    fontSize: 22,
    color: '#555'
  },
  data: [{ yAxis: refValue }]
};

const option = {
  animation: false,
  backgroundColor: '#ffffff',
  title: {
    text: 'ScatterPlot',
    left: 14,
    top: 25,
    textStyle: { fontFamily: FONT, fontSize: 40, fontWeight: 300, color: '#333' }
  },
  grid: { left: 118, right: 0, top: 100, bottom: 131, containLabel: false, outerBoundsMode: 'none' },
  xAxis: {
    type: 'value',
    min: 584,
    max: 903,
    interval: 30,
    name: 'result_start_time [14 June 2026]',
    nameLocation: 'middle',
    nameGap: 112,
    nameTextStyle: { fontFamily: FONT, fontSize: 20, fontWeight: 500, color: '#333' },
    axisLine: { show: true, lineStyle: { color: '#e2e2e2', width: 1.5 } },
    axisTick: { show: true, length: 9, lineStyle: { color: '#e2e2e2', width: 1.2 } },
    axisLabel: {
      fontFamily: FONT, fontSize: 22, color: '#666', margin: 22,
      showMinLabel: false, showMaxLabel: false,
      formatter: fmtTime
    },
    splitLine: { show: false }
  },
  yAxis: {
    type: 'value',
    min: 0,
    max: 89.4,
    interval: 20,
    name: 'Duration (s)',
    nameLocation: 'middle',
    nameRotate: 90,
    nameGap: 68,
    nameTextStyle: { fontFamily: FONT, fontSize: 21, fontWeight: 600, color: '#333' },
    axisLine: { show: true, lineStyle: { color: '#e8e8e8', width: 1.5 } },
    axisTick: { show: false },
    axisLabel: {
      fontFamily: FONT, fontSize: 22, color: '#666', margin: 14,
      showMaxLabel: false,
      formatter: function (v) { return v === 0 ? '{z|0}' : String(v); },
      rich: { z: { fontFamily: FONT, fontSize: 22, color: '#666', padding: [0, 0, 24, 0] } }
    },
    splitLine: {
      show: true, showMinLine: false, showMaxLine: false,
      lineStyle: { color: '#eeeeee', width: 1.2 }
    }
  },
  series: [
    scatter('Teal', tealData, colors.teal),
    scatter('Blue', blueData.concat(blueCore), colors.blue),
    scatter('Orange', orangeData.concat(orangeCore), colors.orange),
    scatter('Red', redData.concat(redCore), colors.red),
    scatter('Green', greenData.concat(greenCore), colors.green),
    trend('Trend 1', blueTrend, colors.blue),
    trend('Trend 2', orangeTrend, colors.orange),
    trend('Trend 3', redTrend, colors.red),
    refSeries
  ]
};

const myChart = echarts.init(document.getElementById('myChart'));
myChart.setOption(option);
</script>
</body>
</html>
